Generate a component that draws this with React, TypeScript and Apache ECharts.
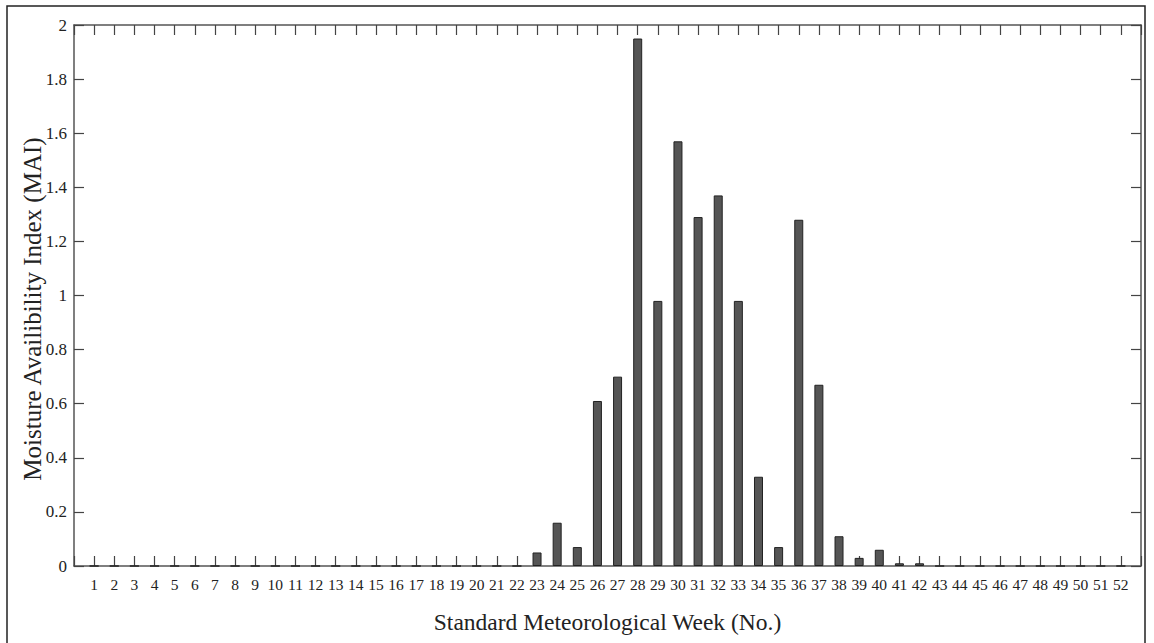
import React, { useEffect, useRef } from "react";
import * as echarts from "echarts";

const weeks: number[] = Array.from({ length: 52 }, (_, i) => i + 1);
const mai: number[] = [
  0, 0, 0, 0, 0, 0, 0, 0, 0, 0,
  0, 0, 0, 0, 0, 0, 0, 0, 0, 0,
  0, 0, 0.05, 0.16, 0.07, 0.61, 0.70, 1.95, 0.98, 1.57,
  1.29, 1.37, 0.98, 0.33, 0.07, 1.28, 0.67, 0.11, 0.03, 0.06,
  0.01, 0.01, 0, 0, 0, 0, 0, 0, 0, 0,
  0, 0,
];
const xTitle = "Standard Meteorological Week (No.)";
const yTitle = "Moisture Availibility Index (MAI)";

const FONT = "'Liberation Serif', 'Times New Roman', serif";

export default function App() {
  const ref = useRef<HTMLDivElement>(null);
  useEffect(() => {
    if (!ref.current) return;
    const chart = echarts.init(ref.current, null, { renderer: "svg" });
    const axisLine = { show: true, onZero: false, lineStyle: { color: "#555", width: 1.5 } };
    const tick = { show: true, inside: true, length: 10, lineStyle: { color: "#444", width: 1.2 } };
    chart.setOption({
      animation: false,
      backgroundColor: "#fff",
      textStyle: { fontFamily: FONT },
      grid: { left: 74, right: 13, top: 25, bottom: 77, containLabel: false },
      graphic: [
        {
          type: "rect",
          shape: { x: 7, y: 6, width: 1138, height: 650 },
          style: { fill: "none", stroke: "#222", lineWidth: 1.5 },
          silent: true,
        },
        {
          type: "text",
          x: 32,
          y: 309,
          rotation: Math.PI / 2,
          silent: true,
          style: {
            text: yTitle,
            fontSize: 25,
            fontFamily: FONT,
            fill: "#222",
            align: "center",
            verticalAlign: "middle",
          },
        },
      ],
      xAxis: [
        {
          type: "value",
          min: 0,
          max: 53,
          interval: 1,
          position: "bottom",
          axisLine,
          axisTick: tick,
          splitLine: { show: false },
          axisLabel: {
            margin: 10,
            fontSize: 15.5,
            color: "#222",
            fontFamily: FONT,
            formatter: (v: number) => (v >= 1 && v <= 52 ? String(v) : ""),
          },
          name: xTitle,
          nameLocation: "middle",
          nameGap: 44,
          nameTextStyle: { fontSize: 23.5, color: "#222", fontFamily: FONT },
        },
        {
          type: "value",
          min: 0,
          max: 53,
          interval: 1,
          position: "top",
          axisLine,
          axisTick: tick,
          splitLine: { show: false },
          axisLabel: { show: false },
        },
      ],
      yAxis: [
        {
          type: "value",
          min: 0,
          max: 2,
          interval: 0.2,
          position: "left",
          axisLine,
          axisTick: tick,
          splitLine: { show: false },
          axisLabel: {
            margin: 7,
            fontSize: 17,
            color: "#222",
            fontFamily: FONT,
            formatter: (v: number) => String(+v.toFixed(1)),
          },
        },
        {
          type: "value",
          min: 0,
          max: 2,
          interval: 0.2,
          position: "right",
          axisLine,
          axisTick: tick,
          splitLine: { show: false },
          axisLabel: { show: false },
        },
      ],
      series: [
        {
          type: "bar",
          xAxisIndex: 0,
          yAxisIndex: 0,
          barWidth: 9,
          data: weeks.map((w, i) => [w, mai[i]]),
          itemStyle: { color: "#555", borderColor: "#222", borderWidth: 1 },
        },
      ],
    });
    return () => chart.dispose();
  }, []);
  return (
    <div
      ref={ref}
      style={{ position: "fixed", left: 0, top: 0, width: 1154, height: 643 }}
    />
  );
}
